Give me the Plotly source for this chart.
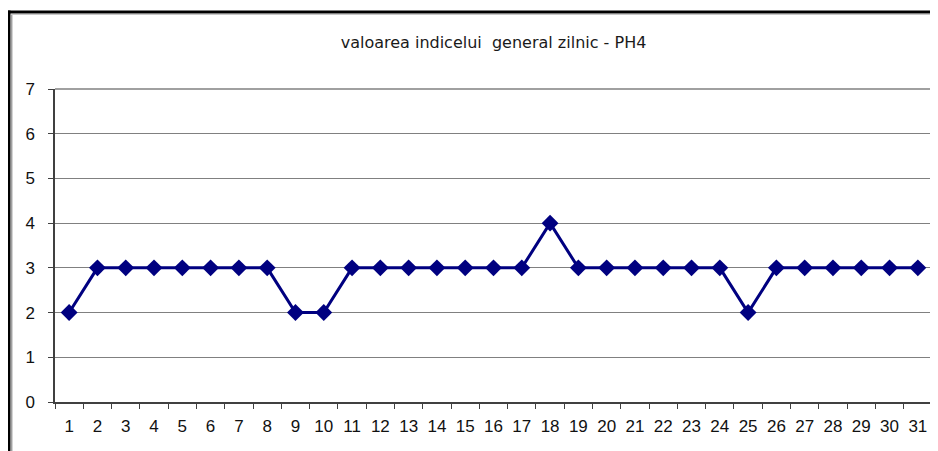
import plotly.graph_objects as go

days = [str(i) for i in range(1, 32)]
values = [2, 3, 3, 3, 3, 3, 3, 3, 2, 2, 3, 3, 3, 3, 3, 3, 3, 4, 3, 3, 3, 3, 3, 3, 2, 3, 3, 3, 3, 3, 3]
title_text = "valoarea indicelui\u00a0 general zilnic - PH4"

# the page body has an 8px margin, so the figure is drawn at (8, 8)
W, H = 930, 443
ml, mr, mt, mb = 47, 6, 81, 49

fig = go.Figure()
fig.add_trace(go.Scatter(
    x=days, y=values, mode="lines+markers",
    line=dict(color="#000080", width=3),
    marker=dict(symbol="diamond", size=13, color="#000080"),
    showlegend=False, cliponaxis=False,
))

def px_x(p):
    return (p - ml) / (W - ml - mr)

def px_y(p):
    return 1 - (p - mt) / (H - mt - mb)

shapes = [
    dict(type="line", xref="paper", yref="paper", x0=px_x(1), x1=px_x(1), y0=px_y(2.5), y1=px_y(460),
         line=dict(color="black", width=3)),
    dict(type="line", xref="paper", yref="paper", x0=px_x(-1), x1=px_x(945), y0=px_y(4), y1=px_y(4),
         line=dict(color="black", width=3)),
    dict(type="line", xref="paper", yref="paper", x0=px_x(3.7), x1=px_x(3.7), y0=px_y(6), y1=px_y(460),
         line=dict(color="#a0a0a0", width=1.5)),
    dict(type="line", xref="paper", yref="paper", x0=px_x(3), x1=px_x(945), y0=px_y(6.5), y1=px_y(6.5),
         line=dict(color="#c8c8c8", width=1)),
    dict(type="line", xref="paper", yref="paper", x0=0, x1=1, y0=1, y1=1,
         line=dict(color="#808080", width=1.5)),
    dict(type="line", xref="paper", yref="paper", x0=1, x1=1, y0=0, y1=1,
         line=dict(color="#808080", width=1.5)),
]

fig.update_layout(
    width=W, height=H,
    margin=dict(l=ml, r=mr, t=mt, b=mb),
    paper_bgcolor="white", plot_bgcolor="white",
    font=dict(family="Liberation Sans, Arial, sans-serif", size=17, color="#111111"),
    title=dict(text=title_text, x=0.5, xanchor="center", xref="paper",
               y=1 - 34 / H, yanchor="middle",
               font=dict(family="DejaVu Sans, Verdana, sans-serif", size=16, color="#1a1a1a")),
    shapes=shapes,
    xaxis=dict(
        type="category", tickson="boundaries", ticks="outside", ticklen=5,
        tickcolor="#404040", showline=True, linecolor="#404040", linewidth=1.5,
        showgrid=False, zeroline=False, range=[-0.5, 30.5], fixedrange=True,
        ticklabelstandoff=8,
    ),
    yaxis=dict(
        range=[0, 7], dtick=1, ticks="outside", ticklen=5, tickcolor="#404040",
        showline=True, linecolor="#404040", linewidth=1.5,
        showgrid=True, gridcolor="#808080", gridwidth=1, zeroline=False,
        ticklabelstandoff=10,
    ),
)

fig.write_html("out.html")
